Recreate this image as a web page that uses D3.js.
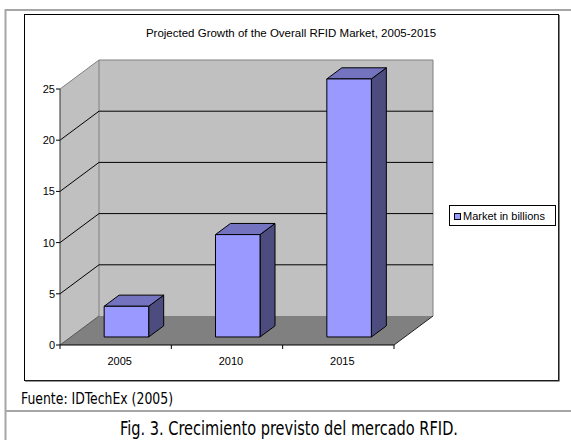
<!DOCTYPE html>
<html>
<head>
<meta charset="utf-8">
<script src="https://cdn.jsdelivr.net/npm/d3@7/dist/d3.min.js"></script>
<style>
html,body{margin:0;padding:0;background:#fff;}
svg{display:block;}
</style>
</head>
<body>
<svg id="chart" width="571" height="440"></svg>
<script>
// ---- data ----
const categories = ["2005", "2010", "2015"];
const values = [3, 10, 25.2];
const yTicks = [0, 5, 10, 15, 20, 25];
const seriesName = "Market in billions";
const chartTitle = "Projected Growth of the Overall RFID Market, 2005-2015";
const sourceText = "Fuente: IDTechEx (2005)";
const captionText = "Fig. 3. Crecimiento previsto del mercado RFID.";

// ---- layout ----
const svg = d3.select("#chart");
const font = "'Liberation Sans', Arial, sans-serif";
const capFont = "'DejaVu Sans Condensed', 'Liberation Sans Narrow', sans-serif";

const front = {x0: 60, x1: 394};
const depth = {dx: 39, dy: -29};
const barDepth = {f0: 0.276, f1: 0.66};

const y = d3.scaleLinear().domain([0, 25]).range([345, 89]);
const xCat = d3.scaleBand().domain(categories).range([front.x0, front.x1]);
const xBar = d3.scaleBand().domain(categories).range([front.x0, front.x1])
  .paddingInner(0.6).paddingOuter(0.3);

// outer page frame
const frame = svg.append("g").attr("stroke", "#a6a6a6").attr("stroke-width", 2).attr("fill", "none");
frame.append("path").attr("d", "M5.5,440 V10 H571");
frame.append("line").attr("x1", 5).attr("x2", 571).attr("y1", 411).attr("y2", 411);

// chart area border
svg.append("rect").attr("x", 24.5).attr("y", 14.5).attr("width", 534).attr("height", 366)
  .attr("fill", "#fff").attr("stroke", "#000").attr("stroke-width", 1);
svg.append("path").attr("d", "M559,15 V381 H25").attr("fill", "none").attr("stroke", "#333").attr("stroke-width", 1.2);

// title
svg.append("text").attr("x", 291).attr("y", 37).attr("text-anchor", "middle")
  .attr("font-family", font).attr("font-size", 11.5).attr("fill", "#000").text(chartTitle);

const dx = depth.dx, dy = depth.dy;
const y0 = y(0), yTop = y(25);
const pts = a => a.map(p => p.join(",")).join(" ");

// side wall
svg.append("polygon").attr("points", pts([[front.x0, y0], [front.x0, yTop], [front.x0 + dx, yTop + dy], [front.x0 + dx, y0 + dy]]))
  .attr("fill", "#c0c0c0").attr("stroke", "none");
// back wall
svg.append("polygon").attr("points", pts([[front.x0 + dx, yTop + dy], [front.x1 + dx, yTop + dy], [front.x1 + dx, y0 + dy], [front.x0 + dx, y0 + dy]]))
  .attr("fill", "#c0c0c0").attr("stroke", "none");
// floor
svg.append("polygon").attr("points", pts([[front.x0, y0], [front.x0 + dx, y0 + dy], [front.x1 + dx, y0 + dy], [front.x1, y0]]))
  .attr("fill", "#808080").attr("stroke", "none");

// wall edges (gray)
svg.append("path")
  .attr("d", `M${front.x0},${yTop} L${front.x0 + dx},${yTop + dy} H${front.x1 + dx} V${y0 + dy} M${front.x0 + dx},${yTop + dy} V${y0 + dy}`)
  .attr("fill", "none").attr("stroke", "#808080").attr("stroke-width", 1);

// gridlines
const grid = svg.append("g").attr("stroke", "#000").attr("stroke-width", 1).attr("fill", "none");
yTicks.filter(t => t > 0 && t < 25).forEach(t => {
  grid.append("path").attr("d", `M${front.x0},${y(t)} L${front.x0 + dx},${y(t) + dy} H${front.x1 + dx}`);
});
// floor edges
svg.append("path").attr("d", `M${front.x0},${y0} L${front.x0 + dx},${y0 + dy}`)
  .attr("stroke", "#555").attr("fill", "none");
svg.append("path").attr("d", `M${front.x1},${y0} L${front.x1 + dx},${y0 + dy}`)
  .attr("stroke", "#222").attr("fill", "none");

// bars
const f0 = barDepth.f0, fd = barDepth.f1 - barDepth.f0;
const ox = f0 * dx, oy = f0 * dy, bx = fd * dx, by = fd * dy;
const bw = xBar.bandwidth();
const bars = svg.append("g").attr("stroke", "#000").attr("stroke-width", 1).attr("stroke-linejoin", "round");
categories.forEach((c, i) => {
  const xl = xBar(c) + ox, xr = xl + bw;
  const yt = y(values[i]) + oy, yb = y0 + oy;
  bars.append("polygon").attr("points", pts([[xr, yt], [xr + bx, yt + by], [xr + bx, yb + by], [xr, yb]]))
    .attr("fill", "#4c4c7f");
  bars.append("polygon").attr("points", pts([[xl, yt], [xl + bx, yt + by], [xr + bx, yt + by], [xr, yt]]))
    .attr("fill", "#7373bf");
  bars.append("rect").attr("x", xl).attr("y", yt).attr("width", bw).attr("height", yb - yt)
    .attr("fill", "#9999ff");
});

// value axis
const yAxis = svg.append("g").attr("font-family", font).attr("font-size", 11);
yAxis.append("line").attr("x1", front.x0).attr("x2", front.x0).attr("y1", yTop).attr("y2", y0)
  .attr("stroke", "#333");
yTicks.forEach(t => {
  yAxis.append("line").attr("x1", front.x0 - 4).attr("x2", front.x0).attr("y1", y(t)).attr("y2", y(t))
    .attr("stroke", "#000");
  yAxis.append("text").attr("x", front.x0 - 5).attr("y", y(t) + 4).attr("text-anchor", "end")
    .attr("fill", "#000").text(t);
});

// category axis
const xAxis = svg.append("g").attr("font-family", font).attr("font-size", 11);
xAxis.append("line").attr("x1", front.x0).attr("x2", front.x1).attr("y1", y0).attr("y2", y0).attr("stroke", "#000");
const bounds = categories.map(c => xCat(c)).concat([front.x1]);
bounds.forEach(b => {
  xAxis.append("line").attr("x1", b).attr("x2", b).attr("y1", y0).attr("y2", y0 + 4).attr("stroke", "#000");
});
categories.forEach(c => {
  xAxis.append("text").attr("x", xCat(c) + xCat.bandwidth() / 2 + 4).attr("y", 365)
    .attr("text-anchor", "middle").attr("fill", "#000").text(c);
});

// legend
const lg = svg.append("g").attr("font-family", font).attr("font-size", 11);
lg.append("rect").attr("x", 449.5).attr("y", 205.5).attr("width", 106).attr("height", 20)
  .attr("fill", "#fff").attr("stroke", "#000");
lg.append("rect").attr("x", 454.5).attr("y", 213.5).attr("width", 6).attr("height", 6)
  .attr("fill", "#9999ff").attr("stroke", "#000");
lg.append("text").attr("x", 463).attr("y", 219.5).attr("fill", "#000").text(seriesName);

// source and caption
svg.append("text").attr("x", 21).attr("y", 404).attr("font-family", capFont).attr("font-size", 16)
  .attr("textLength", 152).attr("lengthAdjust", "spacingAndGlyphs")
  .attr("fill", "#000").text(sourceText);
svg.append("text").attr("x", 289).attr("y", 435).attr("text-anchor", "middle")
  .attr("font-family", capFont).attr("font-size", 19)
  .attr("textLength", 338).attr("lengthAdjust", "spacingAndGlyphs")
  .attr("fill", "#000").text(captionText);
</script>
</body>
</html>
